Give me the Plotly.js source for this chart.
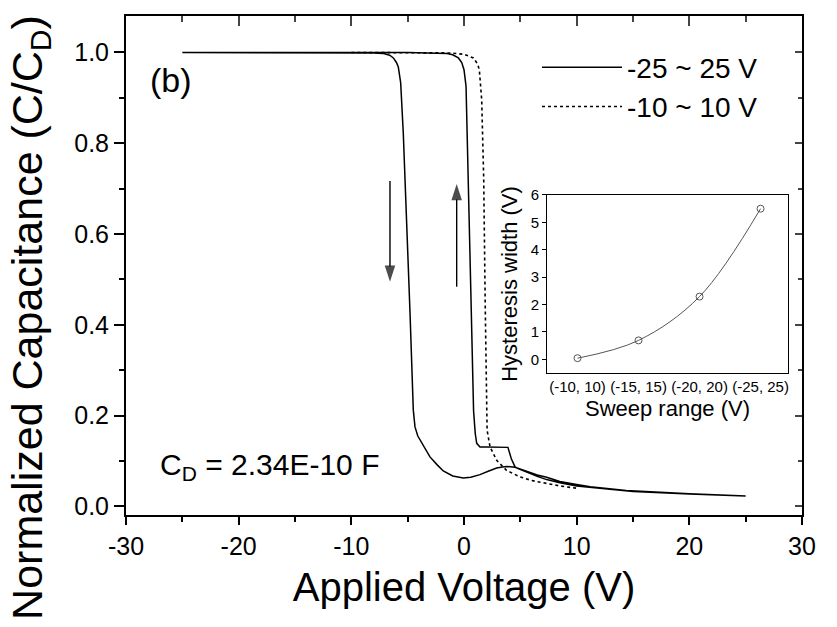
<!DOCTYPE html>
<html>
<head>
<meta charset="utf-8">
<script src="https://cdn.plot.ly/plotly-3.0.1.min.js"></script>
<style>html,body{margin:0;padding:0;background:#fff;}#chart{width:837px;height:627px;}</style>
</head>
<body>
<div id="chart"></div>
<script>
// ---- Main chart data: -25 ~ 25 V sweep (forward then return) ----
const sweep25_V = [
  -25, -20, -15, -10, -8, -7.2, -6.6, -6.27, -6.0, -5.83, -5.62, -5.39, -5.15, -4.79, -4.5, -4.35, -4.1, -3.9, -3.5, -3.02, -2.4, -1.84, -1.0, -0.06, 0.6, 1.42, 2.2, 2.9, 3.4, 3.79, 4.53, 5.5, 6.5, 7.34, 8.5, 10, 11.2, 14.4, 17, 20, 25,
  20, 15, 11.2, 10, 8.5, 7.34, 6.5, 5.5, 4.8, 4.53, 4.2, 3.9, 3.0, 2.0, 1.42, 1.13, 1.0, 0.85, 0.6, 0.38, 0.3, 0.18, 0.0, -0.2, -0.5, -1.0, -1.5, -5, -10, -15, -20, -25
];
const sweep25_C = [
  1.0, 1.0, 1.0, 1.0, 0.999, 0.998, 0.994, 0.988, 0.978, 0.968, 0.933, 0.823, 0.675, 0.426, 0.212, 0.175, 0.155, 0.146, 0.128, 0.109, 0.092, 0.078, 0.067, 0.0625, 0.064, 0.070, 0.078, 0.0845, 0.087, 0.088, 0.086, 0.077, 0.069, 0.064, 0.055, 0.048, 0.043, 0.035, 0.031, 0.028, 0.023,
  0.027, 0.033, 0.041, 0.045, 0.052, 0.059, 0.066, 0.075, 0.083, 0.087, 0.105, 0.130, 0.131, 0.131, 0.131, 0.139, 0.16, 0.21, 0.48, 0.72, 0.823, 0.926, 0.962, 0.978, 0.988, 0.995, 0.998, 1.0, 1.0, 1.0, 1.0, 1.0
];
// ---- -10 ~ 10 V sweep ----
const sweep10_V = [-10, -5, -2, -1.24, 0, 0.83, 1.2, 1.36, 1.57, 1.71, 1.75, 1.88, 2.01, 2.05, 2.31, 2.9, 3.79, 4.97, 6, 7.34, 8.5, 10];
const sweep10_C = [1.0, 1.0, 1.0, 0.999, 0.996, 0.988, 0.975, 0.962, 0.896, 0.786, 0.72, 0.45, 0.212, 0.168, 0.131, 0.1015, 0.079, 0.065, 0.057, 0.050, 0.045, 0.040];

// ---- Inset data ----
const sweepRanges = ["(-10, 10)", "(-15, 15)", "(-20, 20)", "(-25, 25)"];
const hysteresisWidth = [0.04, 0.69, 2.29, 5.5];

// ---- Tick values / labels ----
const xTicks = [-30, -20, -10, 0, 10, 20, 30];
const xTickText = ["-30", "-20", "-10", "0", "10", "20", "30"];
const yTicks = [0.0, 0.2, 0.4, 0.6, 0.8, 1.0];
const yTickText = ["0.0", "0.2", "0.4", "0.6", "0.8", "1.0"];
const insetYTicks = [0, 1, 2, 3, 4, 5, 6];

// ---- Sweep-direction arrows: [tail, tip] ----
const arrowDownV = [-6.57, -6.57];
const arrowDownC = [0.717, 0.495];
const arrowUpV = [-0.65, -0.65];
const arrowUpC = [0.484, 0.71];

const FONT = "Liberation Sans, Arial, Helvetica, sans-serif";

function arrowTrace(xs, ys) {
  return {x: xs, y: ys, type: 'scatter', mode: 'lines+markers', showlegend: false, hoverinfo: 'skip',
          line: {color: '#000', width: 1.4},
          marker: {symbol: ['circle', 'arrow'], size: [0, 17], angleref: 'previous', color: '#000', line: {width: 0}}};
}

const traces = [
  {x: sweep25_V, y: sweep25_C, type: 'scatter', mode: 'lines', name: '-25 ~ 25 V',
   line: {color: '#000', width: 1.5, dash: 'solid'}},
  {x: sweep10_V, y: sweep10_C, type: 'scatter', mode: 'lines', name: '-10 ~ 10 V',
   line: {color: '#000', width: 1.6, dash: 'dot'}},
  arrowTrace(arrowDownV, arrowDownC),
  arrowTrace(arrowUpV, arrowUpC),
  {x: [], y: [], type: 'scatter', mode: 'lines', xaxis: 'x3', yaxis: 'y3', showlegend: false, hoverinfo: 'skip'},
  {x: sweepRanges, y: hysteresisWidth, type: 'scatter', mode: 'lines+markers', xaxis: 'x2', yaxis: 'y2',
   showlegend: false, line: {color: '#555', width: 1, shape: 'spline'},
   marker: {symbol: 'circle-open', size: 7, color: '#555', line: {width: 1, color: '#555'}}}
];

const layout = {
  width: 837, height: 627,
  margin: {l: 126, r: 35, t: 16, b: 112},
  paper_bgcolor: '#fff', plot_bgcolor: '#fff',
  font: {family: FONT, color: '#000'},
  showlegend: true,
  legend: {x: 0.608, xanchor: 'left', y: 0.947, yanchor: 'top', bgcolor: 'rgba(0,0,0,0)',
           font: {size: 28, family: FONT}, itemwidth: 80, tracegroupgap: 0},
  xaxis: {range: [-30, 30], tickvals: xTicks, ticktext: xTickText, ticks: 'outside', ticklen: 8, tickwidth: 2, tickcolor: '#000',
          minor: {dtick: 5, ticks: 'outside', ticklen: 5, tickwidth: 2, tickcolor: '#000'},
          showline: true, linewidth: 2, linecolor: '#000', showgrid: false, zeroline: false,
          tickfont: {size: 25}, automargin: false,
          title: {text: 'Applied Voltage (V)', font: {size: 40}, standoff: 14}},
  yaxis: {range: [-0.019, 1.0804], tickvals: yTicks, ticktext: yTickText, ticks: 'outside', ticklen: 10, tickwidth: 2, tickcolor: '#000',
          minor: {dtick: 0.1, ticks: 'outside', ticklen: 5, tickwidth: 2, tickcolor: '#000'},
          showline: true, linewidth: 2, linecolor: '#000', showgrid: false, zeroline: false,
          tickfont: {size: 25}, automargin: false},
  xaxis3: {overlaying: 'x', side: 'top', anchor: 'y3', range: [-30, 30], tickvals: xTicks, ticks: 'inside', ticklen: 10, tickwidth: 2,
           minor: {dtick: 5, ticks: 'inside', ticklen: 6, tickwidth: 2}, showticklabels: false,
           showline: true, linewidth: 2, linecolor: '#000', showgrid: false, zeroline: false},
  yaxis3: {overlaying: 'y', side: 'right', anchor: 'x3', range: [-0.019, 1.0804], tickvals: yTicks, ticks: 'inside', ticklen: 7, tickwidth: 2,
           minor: {dtick: 0.1, ticks: 'inside', ticklen: 4, tickwidth: 2}, showticklabels: false,
           showline: true, linewidth: 2, linecolor: '#000', showgrid: false, zeroline: false},
  xaxis2: {domain: [0.6228, 0.9793], anchor: 'y2', type: 'category', range: [-0.5, 3.45],
           showline: true, mirror: true, linewidth: 1, linecolor: '#000', ticks: '', showgrid: false, zeroline: false,
           tickfont: {size: 15}, automargin: false,
           title: {text: 'Sweep range (V)', font: {size: 22}, standoff: 6}},
  yaxis2: {domain: [0.2846, 0.6413], anchor: 'x2', range: [-0.5, 6], tickvals: insetYTicks,
           showline: true, mirror: true, linewidth: 1, linecolor: '#000', ticks: 'outside', ticklen: 4, tickcolor: '#000',
           showgrid: false, zeroline: false, tickfont: {size: 15}, automargin: false,
           title: {text: 'Hysteresis width (V)', font: {size: 22}, standoff: 6}},
  annotations: [
    {xref: 'paper', yref: 'paper', x: -0.142, y: 0.395, text: 'Normalized Capacitance (C/C<sub>D</sub>)',
     textangle: -90, showarrow: false, font: {size: 43}, xanchor: 'center', yanchor: 'middle'},
    {xref: 'paper', yref: 'paper', x: 0.066, y: 0.872, text: '(b)', showarrow: false,
     font: {size: 34}, xanchor: 'center', yanchor: 'middle'},
    {xref: 'paper', yref: 'paper', x: 0.048, y: 0.098, text: 'C<sub>D</sub> = 2.34E-10 F', showarrow: false,
     font: {size: 30}, xanchor: 'left', yanchor: 'middle'}
  ]
};

Plotly.newPlot('chart', traces, layout, {displayModeBar: false, staticPlot: true});
</script>
</body>
</html>
